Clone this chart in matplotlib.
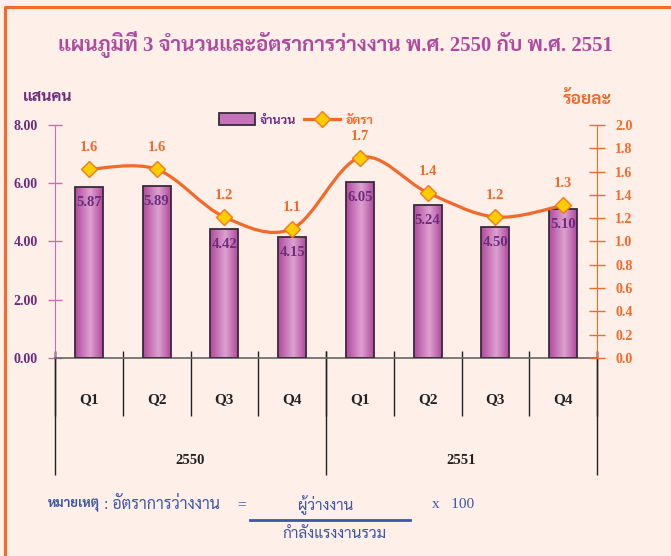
import matplotlib
matplotlib.use("Agg")
import numpy as np
import matplotlib.pyplot as plt
from matplotlib.colors import LinearSegmentedColormap
from matplotlib.patches import Patch, PathPatch
from matplotlib.lines import Line2D
from matplotlib.path import Path

# Latin digits in a Times-like face, Thai glyphs from Sarabun
plt.rcParams['font.family'] = ['Liberation Serif', 'Sarabun', 'Taviraj', 'DejaVu Sans']

# data
quarters = ["Q1", "Q2", "Q3", "Q4", "Q1", "Q2", "Q3", "Q4"]
years = ["2550", "2551"]
unemployed = [5.87, 5.89, 4.42, 4.15, 6.05, 5.24, 4.50, 5.10]   # แสนคน
rate = [1.62, 1.62, 1.21, 1.11, 1.72, 1.42, 1.21, 1.31]         # ร้อยละ
left_ticks = [0, 2, 4, 6, 8]
right_ticks = [0.0, 0.2, 0.4, 0.6, 0.8, 1.0, 1.2, 1.4, 1.6, 1.8, 2.0]

bg = "#FEF0E8"
purple = "#6B2C7E"
magenta = "#AD4C9E"
orange = "#F2692A"
blue = "#3F55A8"

W, H = 671, 556
fig = plt.figure(figsize=(W / 100, H / 100), dpi=100, facecolor=bg)
renderer = fig.canvas.get_renderer()


def fx(px):
    return px / W


def fy(py):
    return 1 - py / H


def fit(t, width_px):
    # shrink/grow a text so it spans about width_px pixels
    w = t.get_window_extent(renderer).width
    t.set_fontsize(t.get_fontsize() * width_px / w)
    return t


ax = fig.add_axes([fx(55), fy(358), fx(597) - fx(55), fy(125) - fy(358)])
ax.set_facecolor("none")
ax2 = ax.twinx()

n = len(quarters)
xs = np.arange(n) + 0.5

# bars with a horizontal gradient
bars = ax.bar(xs, unemployed, width=0.41, facecolor="none",
              edgecolor="#3A2A3C", linewidth=1.3, zorder=3)
grad = LinearSegmentedColormap.from_list(
    "g", [(0, "#B24A9C"), (0.55, "#DCA2D0"), (1, "#B24A9C")])
gimg = np.linspace(0, 1, 64).reshape(1, -1)
for b in bars:
    x0, y0 = b.get_x(), b.get_y()
    im = ax.imshow(gimg, cmap=grad, aspect="auto", zorder=2,
                   extent=[x0, x0 + b.get_width(), y0, y0 + b.get_height()])
    im.set_clip_path(b)

for x, v in zip(xs, unemployed):
    ax.annotate(f"{v:.2f}", (x, v), xytext=(0, -11), textcoords="offset points",
                ha="center", va="center", color=purple, fontsize=10.5,
                fontweight="bold", zorder=5)

ax.set_xlim(0, n)
ax.set_ylim(0, 8)
ax.set_yticks(left_ticks)
ax.set_yticklabels([f"{t:.2f}" for t in left_ticks])
ax.tick_params(axis="y", direction="inout", length=10, width=1,
               color="#C76DB5", labelcolor=purple, labelsize=10, pad=7.5)
for lab in ax.get_yticklabels():
    lab.set_fontweight("bold")
ax.set_xticks([])
ax.spines["left"].set_color("#C76DB5")
ax.spines["bottom"].set_color("#666666")
ax.spines["bottom"].set_linewidth(1.2)
ax.spines["top"].set_visible(False)
ax.spines["right"].set_visible(False)

# smoothed rate line (Catmull-Rom through the points)
pts = np.column_stack([xs, rate])
ext = np.vstack([pts[0], pts, pts[-1]])
verts = [tuple(pts[0])]
codes = [Path.MOVETO]
for i in range(n - 1):
    p0, p1, p2, p3 = ext[i], ext[i + 1], ext[i + 2], ext[i + 3]
    c1 = p1 + (p2 - p0) / 6
    c2 = p2 - (p3 - p1) / 6
    verts += [tuple(c1), tuple(c2), tuple(p2)]
    codes += [Path.CURVE4] * 3
ax2.add_patch(PathPatch(Path(verts, codes), facecolor="none",
                        edgecolor=orange, linewidth=2.3, zorder=4))
ax2.plot(xs, rate, linestyle="none", marker="D", markersize=8.5,
         markerfacecolor="#FFCC00", markeredgecolor="#F07A20",
         markeredgewidth=1, zorder=6)
for x, v in zip(xs, rate):
    ax2.annotate(f"{v:.1f}", (x, v), xytext=(0, 15.5), textcoords="offset points",
                 ha="center", va="center", color=orange, fontsize=10.5,
                 fontweight="bold", zorder=7)

ax2.set_ylim(0, 2)
ax2.set_yticks(right_ticks)
ax2.set_yticklabels([f"{t:.1f}" for t in right_ticks])
ax2.tick_params(axis="y", direction="inout", length=11, width=1,
                color=orange, labelcolor=orange, labelsize=10, pad=7.5)
for lab in ax2.get_yticklabels():
    lab.set_fontweight("bold")
for s in ["left", "top", "bottom"]:
    ax2.spines[s].set_visible(False)
ax2.spines["right"].set_color(orange)

# category separators and labels below the axis
xt = ax.get_xaxis_transform()
ax.vlines(np.arange(n + 1), 0.03, -0.249, transform=xt, color="#222222",
          linewidth=1, clip_on=False)
ax.vlines(np.arange(0, n + 1, 4), 0.03, -0.502, transform=xt, color="#222222",
          linewidth=1, clip_on=False)
for x, q in zip(xs, quarters):
    ax.text(x, -0.18, q, transform=xt, ha="center", va="center",
            fontsize=11, fontweight="bold", color="#222222")
for i, yr in enumerate(years):
    ax.text(i * 4 + 2, -0.44, yr, transform=xt, ha="center", va="center",
            fontsize=10.5, fontweight="bold", color="#222222")

# legend
handles = [Patch(facecolor="#C672B8", edgecolor="#3A2A3C", linewidth=1.3),
           Line2D([], [], color=orange, linewidth=2.3, marker="D", markersize=8,
                  markerfacecolor="#FFCC00", markeredgecolor="#F07A20")]
leg = fig.legend(handles, ["จำนวน", "อัตรา"], loc="center", ncol=2,
                 bbox_to_anchor=(fx(296), fy(120)), frameon=False,
                 fontsize=9, handlelength=2.9, handleheight=1.1,
                 columnspacing=0.6, handletextpad=0.4, borderpad=0)
leg.get_texts()[0].set_color(purple)
leg.get_texts()[1].set_color(orange)
for t in leg.get_texts():
    t.set_fontweight("bold")

# titles
title = fig.text(fx(335), fy(44),
                 "แผนภูมิที่ 3 จำนวนและอัตราการว่างงาน พ.ศ. 2550 กับ พ.ศ. 2551",
                 ha="center", va="center", fontsize=18, fontweight="bold",
                 color=magenta)
fit(title, 557)
fit(fig.text(fx(23), fy(97), "แสนคน", ha="left", va="center", fontsize=11,
             fontweight="bold", color=purple), 50)
fit(fig.text(fx(612), fy(100), "ร้อยละ", ha="right", va="center", fontsize=11,
             fontweight="bold", color=orange), 49)

# note with the formula
fit(fig.text(fx(48), fy(505), "หมายเหตุ", ha="left", va="center", fontsize=11,
             fontweight="bold", color=blue), 52)
fit(fig.text(fx(104), fy(505), ": อัตราการว่างงาน", ha="left", va="center",
             fontsize=11, color=blue), 116)
fig.text(fx(242), fy(505), "=", ha="center", va="center", fontsize=11, color=blue)
fit(fig.text(fx(326), fy(505), "ผู้ว่างงาน", ha="center", va="center",
             fontsize=11, color=blue), 55)
fig.text(fx(432), fy(505), "x   100", ha="left", va="center", fontsize=11,
         color=blue)
fit(fig.text(fx(334), fy(534), "กำลังแรงงานรวม", ha="center", va="center",
             fontsize=11, color=blue), 104)
fig.add_artist(Line2D([fx(250), fx(410)], [fy(520), fy(520)], color=blue,
                      linewidth=2))

# orange frame (left and top edges)
fig.add_artist(Line2D([fx(5), fx(5), fx(W + 5)], [fy(H + 5), fy(7), fy(7)],
                      color="#F26C2C", linewidth=2.2))

fig.savefig("out.png", dpi=100, facecolor=bg)
